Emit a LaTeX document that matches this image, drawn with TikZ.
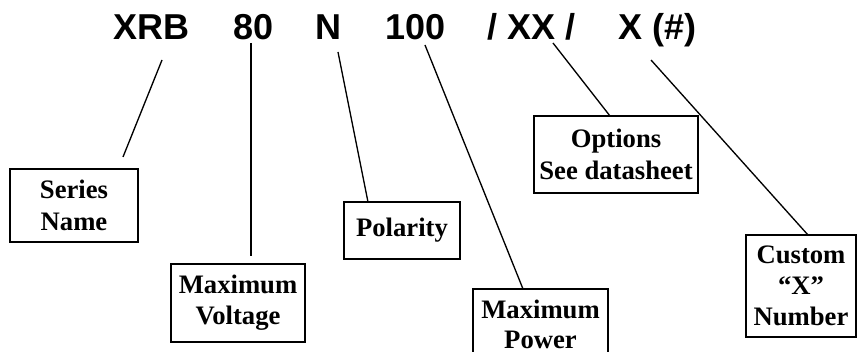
\documentclass[tikz,border=0pt]{standalone}
\usepackage{fontspec}
\setmainfont{Liberation Serif}
\newfontfamily\titlefont{Liberation Sans}
\begin{document}
\begin{tikzpicture}[x=0.75pt,y=-0.75pt,
  ttl/.style={anchor=base west,inner sep=0pt,font=\titlefont\bfseries\fontsize{27}{32}\selectfont},
  lbox/.style={draw,line width=1pt,align=center,inner sep=0pt,font=\bfseries\fontsize{20}{23.5}\selectfont},
  conn/.style={line width=1pt}]
\useasboundingbox (0,0) rectangle (857,352);
\clip (0,0) rectangle (857,352);
% title parts
\node[ttl] (t1) at (113,40) {XRB};
\node[ttl] (t2) at (233,40) {80};
\node[ttl] (t3) at (315,40) {N};
\node[ttl] (t4) at (385,40) {100};
\node[ttl] (t5) at (487,40) {/ XX /};
\node[ttl] (t6) at (618,40) {X (\#)};
% boxes
\node[lbox,minimum width=128*0.75pt,minimum height=73*0.75pt] (series) at (74,205.5) {Series\\Name};
\node[lbox,minimum width=134*0.75pt,minimum height=78*0.75pt] (volt) at (238,303) {Maximum\\Voltage};
\node[lbox,minimum width=116*0.75pt,minimum height=57*0.75pt] (pol) at (402,230.5) {Polarity};
\node[lbox,minimum width=135*0.75pt,minimum height=70*0.75pt,font=\bfseries\fontsize{20}{22.5}\selectfont] (power) at (540.5,324) {Maximum\\Power};
\node[lbox,minimum width=164*0.75pt,minimum height=77*0.75pt] (opt) at (616,154.5) {Options\\See datasheet};
\node[lbox,minimum width=110*0.75pt,minimum height=102*0.75pt] (cust) at (801,286) {Custom\\“X”\\Number};
% connector end points
\coordinate (a1) at (162,60);  \coordinate (b1) at (123,157);
\coordinate (a2) at (251,43);  \coordinate (b2) at (251,256);
\coordinate (a3) at (338,52);  \coordinate (b3) at (368,202);
\coordinate (a4) at (425,45);  \coordinate (b4) at (523,289);
\coordinate (a5) at (553,43);  \coordinate (b5) at (610,116);
\coordinate (a6) at (651,60);  \coordinate (b6) at (808,235);
\draw[conn] (a1) -- (b1);
\draw[conn] (a2) -- (b2);
\draw[conn] (a3) -- (b3);
\draw[conn] (a4) -- (b4);
\draw[conn] (a5) -- (b5);
\draw[conn] (a6) -- (b6);
\end{tikzpicture}
\end{document}
